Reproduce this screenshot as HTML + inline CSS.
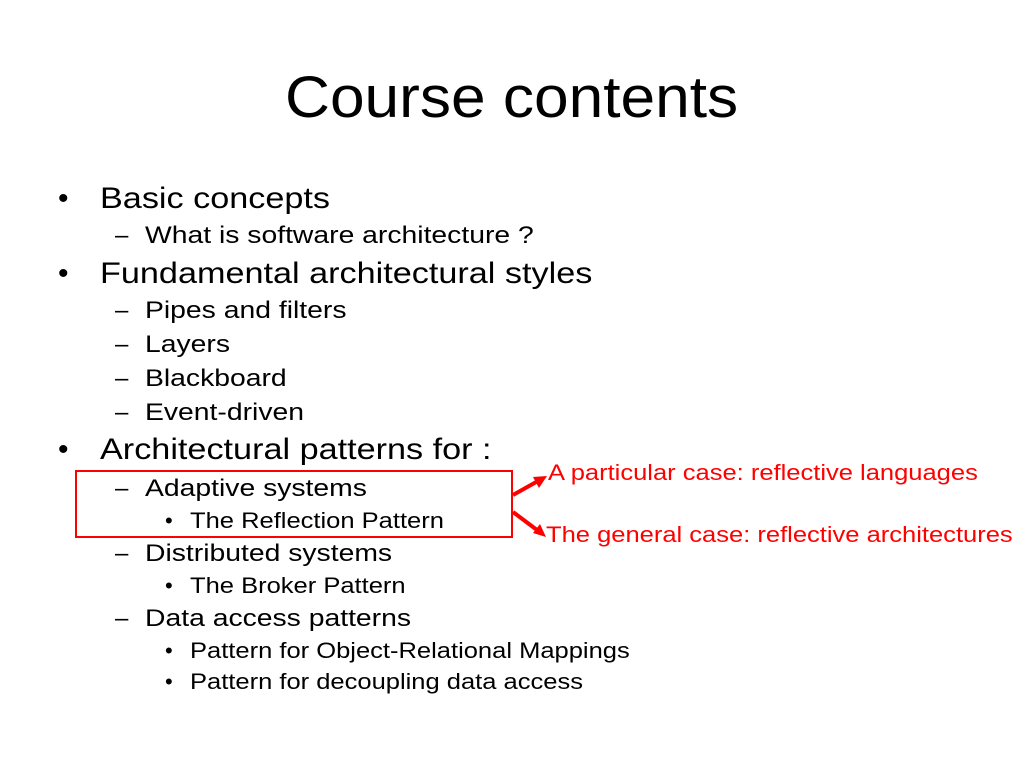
<!DOCTYPE html>
<html><head><meta charset="utf-8"><style>
html,body{margin:0;padding:0;background:#fff;}
body{width:1024px;height:768px;position:relative;overflow:hidden;font-family:"Liberation Sans",Arial,sans-serif;color:#000;}
div.t{position:absolute;white-space:nowrap;line-height:1;transform-origin:0 0;}
.l1{font-size:30px;}
.l2{font-size:24px;}
.l3{font-size:22px;}
.r{font-size:22px;color:#ff0000;}
.s1{transform:scaleX(1.14);}
.s2{transform:scaleX(1.18);}
.s3{transform:scaleX(1.16);}
</style></head><body>
<div class="t" style="left:285px;top:69px;font-size:58px;transform:scaleX(1.073);">Course contents</div>

<div class="t l1" style="left:58px;top:184px;">•</div><div class="t l1 s1" style="left:100px;top:184px;">Basic concepts</div>
<div class="t l2" style="left:115px;top:224px;">–</div><div class="t l2 s2" style="left:145px;top:224px;">What is software architecture ?</div>
<div class="t l1" style="left:58px;top:259px;">•</div><div class="t l1 s1" style="left:100px;top:259px;">Fundamental architectural styles</div>
<div class="t l2" style="left:115px;top:299px;">–</div><div class="t l2 s2" style="left:145px;top:299px;">Pipes and filters</div>
<div class="t l2" style="left:115px;top:333px;">–</div><div class="t l2 s2" style="left:145px;top:333px;">Layers</div>
<div class="t l2" style="left:115px;top:367px;">–</div><div class="t l2 s2" style="left:145px;top:367px;">Blackboard</div>
<div class="t l2" style="left:115px;top:401px;">–</div><div class="t l2 s2" style="left:145px;top:401px;">Event-driven</div>
<div class="t l1" style="left:58px;top:435px;">•</div><div class="t l1 s1" style="left:100px;top:435px;">Architectural patterns for :</div>
<div class="t l2" style="left:115px;top:477px;">–</div><div class="t l2 s2" style="left:145px;top:477px;">Adaptive systems</div>
<div class="t l3" style="left:165px;top:510px;">•</div><div class="t l3 s3" style="left:190px;top:510px;">The Reflection Pattern</div>
<div class="t l2" style="left:115px;top:542px;">–</div><div class="t l2 s2" style="left:145px;top:542px;">Distributed systems</div>
<div class="t l3" style="left:165px;top:575px;">•</div><div class="t l3 s3" style="left:190px;top:575px;">The Broker Pattern</div>
<div class="t l2" style="left:115px;top:607px;">–</div><div class="t l2 s2" style="left:145px;top:607px;">Data access patterns</div>
<div class="t l3" style="left:165px;top:640px;">•</div><div class="t l3 s3" style="left:190px;top:640px;">Pattern for Object-Relational Mappings</div>
<div class="t l3" style="left:165px;top:671px;">•</div><div class="t l3 s3" style="left:190px;top:671px;">Pattern for decoupling data access</div>

<div class="t r s3" style="left:548px;top:462px;">A particular case: reflective languages</div>
<div class="t r s3" style="left:546px;top:524px;">The general case: reflective architectures</div>

<svg width="1024" height="768" style="position:absolute;left:0;top:0;" xmlns="http://www.w3.org/2000/svg">
<rect x="76" y="471" width="436" height="66" fill="none" stroke="#ff0000" stroke-width="2"/>
<line x1="513" y1="495" x2="538" y2="481" stroke="#ff0000" stroke-width="4"/>
<polygon points="547,476 533,477 539,488" fill="#ff0000"/>
<line x1="513" y1="512" x2="537" y2="530" stroke="#ff0000" stroke-width="4"/>
<polygon points="546,537 533,533 540,524" fill="#ff0000"/>
</svg>
</body></html>
